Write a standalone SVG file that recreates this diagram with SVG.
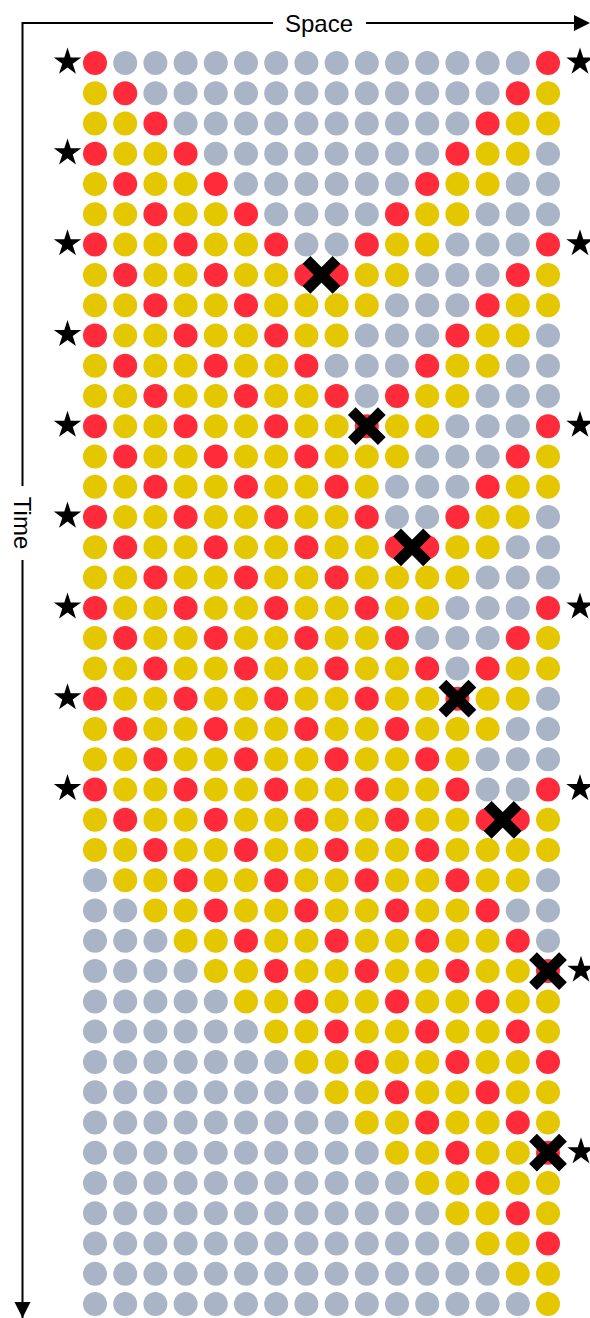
<svg xmlns="http://www.w3.org/2000/svg" width="590" height="1318" viewBox="0 0 590 1318">
<style>
.axis{stroke:#000;stroke-width:2;fill:none}
.lbl{font-family:"Liberation Sans",Arial,sans-serif;font-size:24px;fill:#000;text-anchor:middle}
</style>
<defs>
<circle id="r" r="12" fill="#FF2A3A"/>
<circle id="y" r="12" fill="#E5C700"/>
<circle id="g" r="12" fill="#A9B5C6"/>
<path id="star" d="M0,-14.4 L3.23,-4.45 L13.7,-4.45 L5.23,1.7 L8.46,11.65 L0,5.5 L-8.46,11.65 L-5.23,1.7 L-13.7,-4.45 L-3.23,-4.45 Z" fill="#000"/>
<path id="x" d="M-15,-15 L15,15 M15,-15 L-15,15" stroke="#000" stroke-width="11" fill="none"/>
</defs>
<g id="axes">
<path class="axis" d="M22.5,1318 V560 M22.5,486 V23 H273 M366,23 H576"/>
<path d="M590,23 L574,15 L574,31 Z" fill="#000"/>
<path d="M22.5,1318 L14.5,1302 L30.5,1302 Z" fill="#000"/>
<text class="lbl" x="319" y="31.5">Space</text>
<text class="lbl" transform="translate(22.5,523) rotate(90)" x="0" y="8.6">Time</text>
</g>
<g id="dots">
<g id="row-0" transform="translate(0,63)"><use href="#r" x="95"/><use href="#g" x="125.2"/><use href="#g" x="155.4"/><use href="#g" x="185.6"/><use href="#g" x="215.8"/><use href="#g" x="246"/><use href="#g" x="276.2"/><use href="#g" x="306.4"/><use href="#g" x="336.6"/><use href="#g" x="366.8"/><use href="#g" x="397"/><use href="#g" x="427.2"/><use href="#g" x="457.4"/><use href="#g" x="487.6"/><use href="#g" x="517.8"/><use href="#r" x="548"/></g>
<g id="row-1" transform="translate(0,93.3)"><use href="#y" x="95"/><use href="#r" x="125.2"/><use href="#g" x="155.4"/><use href="#g" x="185.6"/><use href="#g" x="215.8"/><use href="#g" x="246"/><use href="#g" x="276.2"/><use href="#g" x="306.4"/><use href="#g" x="336.6"/><use href="#g" x="366.8"/><use href="#g" x="397"/><use href="#g" x="427.2"/><use href="#g" x="457.4"/><use href="#g" x="487.6"/><use href="#r" x="517.8"/><use href="#y" x="548"/></g>
<g id="row-2" transform="translate(0,123.5)"><use href="#y" x="95"/><use href="#y" x="125.2"/><use href="#r" x="155.4"/><use href="#g" x="185.6"/><use href="#g" x="215.8"/><use href="#g" x="246"/><use href="#g" x="276.2"/><use href="#g" x="306.4"/><use href="#g" x="336.6"/><use href="#g" x="366.8"/><use href="#g" x="397"/><use href="#g" x="427.2"/><use href="#g" x="457.4"/><use href="#r" x="487.6"/><use href="#y" x="517.8"/><use href="#y" x="548"/></g>
<g id="row-3" transform="translate(0,153.8)"><use href="#r" x="95"/><use href="#y" x="125.2"/><use href="#y" x="155.4"/><use href="#r" x="185.6"/><use href="#g" x="215.8"/><use href="#g" x="246"/><use href="#g" x="276.2"/><use href="#g" x="306.4"/><use href="#g" x="336.6"/><use href="#g" x="366.8"/><use href="#g" x="397"/><use href="#g" x="427.2"/><use href="#r" x="457.4"/><use href="#y" x="487.6"/><use href="#y" x="517.8"/><use href="#g" x="548"/></g>
<g id="row-4" transform="translate(0,184.1)"><use href="#y" x="95"/><use href="#r" x="125.2"/><use href="#y" x="155.4"/><use href="#y" x="185.6"/><use href="#r" x="215.8"/><use href="#g" x="246"/><use href="#g" x="276.2"/><use href="#g" x="306.4"/><use href="#g" x="336.6"/><use href="#g" x="366.8"/><use href="#g" x="397"/><use href="#r" x="427.2"/><use href="#y" x="457.4"/><use href="#y" x="487.6"/><use href="#g" x="517.8"/><use href="#g" x="548"/></g>
<g id="row-5" transform="translate(0,214.35)"><use href="#y" x="95"/><use href="#y" x="125.2"/><use href="#r" x="155.4"/><use href="#y" x="185.6"/><use href="#y" x="215.8"/><use href="#r" x="246"/><use href="#g" x="276.2"/><use href="#g" x="306.4"/><use href="#g" x="336.6"/><use href="#g" x="366.8"/><use href="#r" x="397"/><use href="#y" x="427.2"/><use href="#y" x="457.4"/><use href="#g" x="487.6"/><use href="#g" x="517.8"/><use href="#g" x="548"/></g>
<g id="row-6" transform="translate(0,244.6)"><use href="#r" x="95"/><use href="#y" x="125.2"/><use href="#y" x="155.4"/><use href="#r" x="185.6"/><use href="#y" x="215.8"/><use href="#y" x="246"/><use href="#r" x="276.2"/><use href="#g" x="306.4"/><use href="#g" x="336.6"/><use href="#r" x="366.8"/><use href="#y" x="397"/><use href="#y" x="427.2"/><use href="#g" x="457.4"/><use href="#g" x="487.6"/><use href="#g" x="517.8"/><use href="#r" x="548"/></g>
<g id="row-7" transform="translate(0,274.9)"><use href="#y" x="95"/><use href="#r" x="125.2"/><use href="#y" x="155.4"/><use href="#y" x="185.6"/><use href="#r" x="215.8"/><use href="#y" x="246"/><use href="#y" x="276.2"/><use href="#r" x="306.4"/><use href="#r" x="336.6"/><use href="#y" x="366.8"/><use href="#y" x="397"/><use href="#g" x="427.2"/><use href="#g" x="457.4"/><use href="#g" x="487.6"/><use href="#r" x="517.8"/><use href="#y" x="548"/></g>
<g id="row-8" transform="translate(0,305.2)"><use href="#y" x="95"/><use href="#y" x="125.2"/><use href="#r" x="155.4"/><use href="#y" x="185.6"/><use href="#y" x="215.8"/><use href="#r" x="246"/><use href="#y" x="276.2"/><use href="#y" x="306.4"/><use href="#y" x="336.6"/><use href="#y" x="366.8"/><use href="#g" x="397"/><use href="#g" x="427.2"/><use href="#g" x="457.4"/><use href="#r" x="487.6"/><use href="#y" x="517.8"/><use href="#y" x="548"/></g>
<g id="row-9" transform="translate(0,335.4)"><use href="#r" x="95"/><use href="#y" x="125.2"/><use href="#y" x="155.4"/><use href="#r" x="185.6"/><use href="#y" x="215.8"/><use href="#y" x="246"/><use href="#r" x="276.2"/><use href="#y" x="306.4"/><use href="#y" x="336.6"/><use href="#g" x="366.8"/><use href="#g" x="397"/><use href="#g" x="427.2"/><use href="#r" x="457.4"/><use href="#y" x="487.6"/><use href="#y" x="517.8"/><use href="#g" x="548"/></g>
<g id="row-10" transform="translate(0,365.7)"><use href="#y" x="95"/><use href="#r" x="125.2"/><use href="#y" x="155.4"/><use href="#y" x="185.6"/><use href="#r" x="215.8"/><use href="#y" x="246"/><use href="#y" x="276.2"/><use href="#r" x="306.4"/><use href="#g" x="336.6"/><use href="#g" x="366.8"/><use href="#g" x="397"/><use href="#r" x="427.2"/><use href="#y" x="457.4"/><use href="#y" x="487.6"/><use href="#g" x="517.8"/><use href="#g" x="548"/></g>
<g id="row-11" transform="translate(0,396)"><use href="#y" x="95"/><use href="#y" x="125.2"/><use href="#r" x="155.4"/><use href="#y" x="185.6"/><use href="#y" x="215.8"/><use href="#r" x="246"/><use href="#y" x="276.2"/><use href="#y" x="306.4"/><use href="#r" x="336.6"/><use href="#g" x="366.8"/><use href="#r" x="397"/><use href="#y" x="427.2"/><use href="#y" x="457.4"/><use href="#g" x="487.6"/><use href="#g" x="517.8"/><use href="#g" x="548"/></g>
<g id="row-12" transform="translate(0,426.2)"><use href="#r" x="95"/><use href="#y" x="125.2"/><use href="#y" x="155.4"/><use href="#r" x="185.6"/><use href="#y" x="215.8"/><use href="#y" x="246"/><use href="#r" x="276.2"/><use href="#y" x="306.4"/><use href="#y" x="336.6"/><use href="#r" x="366.8"/><use href="#y" x="397"/><use href="#y" x="427.2"/><use href="#g" x="457.4"/><use href="#g" x="487.6"/><use href="#g" x="517.8"/><use href="#r" x="548"/></g>
<g id="row-13" transform="translate(0,456.5)"><use href="#y" x="95"/><use href="#r" x="125.2"/><use href="#y" x="155.4"/><use href="#y" x="185.6"/><use href="#r" x="215.8"/><use href="#y" x="246"/><use href="#y" x="276.2"/><use href="#r" x="306.4"/><use href="#y" x="336.6"/><use href="#y" x="366.8"/><use href="#y" x="397"/><use href="#g" x="427.2"/><use href="#g" x="457.4"/><use href="#g" x="487.6"/><use href="#r" x="517.8"/><use href="#y" x="548"/></g>
<g id="row-14" transform="translate(0,486.8)"><use href="#y" x="95"/><use href="#y" x="125.2"/><use href="#r" x="155.4"/><use href="#y" x="185.6"/><use href="#y" x="215.8"/><use href="#r" x="246"/><use href="#y" x="276.2"/><use href="#y" x="306.4"/><use href="#r" x="336.6"/><use href="#y" x="366.8"/><use href="#g" x="397"/><use href="#g" x="427.2"/><use href="#g" x="457.4"/><use href="#r" x="487.6"/><use href="#y" x="517.8"/><use href="#y" x="548"/></g>
<g id="row-15" transform="translate(0,517)"><use href="#r" x="95"/><use href="#y" x="125.2"/><use href="#y" x="155.4"/><use href="#r" x="185.6"/><use href="#y" x="215.8"/><use href="#y" x="246"/><use href="#r" x="276.2"/><use href="#y" x="306.4"/><use href="#y" x="336.6"/><use href="#r" x="366.8"/><use href="#g" x="397"/><use href="#g" x="427.2"/><use href="#r" x="457.4"/><use href="#y" x="487.6"/><use href="#y" x="517.8"/><use href="#g" x="548"/></g>
<g id="row-16" transform="translate(0,547.3)"><use href="#y" x="95"/><use href="#r" x="125.2"/><use href="#y" x="155.4"/><use href="#y" x="185.6"/><use href="#r" x="215.8"/><use href="#y" x="246"/><use href="#y" x="276.2"/><use href="#r" x="306.4"/><use href="#y" x="336.6"/><use href="#y" x="366.8"/><use href="#r" x="397"/><use href="#r" x="427.2"/><use href="#y" x="457.4"/><use href="#y" x="487.6"/><use href="#g" x="517.8"/><use href="#g" x="548"/></g>
<g id="row-17" transform="translate(0,577.6)"><use href="#y" x="95"/><use href="#y" x="125.2"/><use href="#r" x="155.4"/><use href="#y" x="185.6"/><use href="#y" x="215.8"/><use href="#r" x="246"/><use href="#y" x="276.2"/><use href="#y" x="306.4"/><use href="#r" x="336.6"/><use href="#y" x="366.8"/><use href="#y" x="397"/><use href="#y" x="427.2"/><use href="#y" x="457.4"/><use href="#g" x="487.6"/><use href="#g" x="517.8"/><use href="#g" x="548"/></g>
<g id="row-18" transform="translate(0,607.9)"><use href="#r" x="95"/><use href="#y" x="125.2"/><use href="#y" x="155.4"/><use href="#r" x="185.6"/><use href="#y" x="215.8"/><use href="#y" x="246"/><use href="#r" x="276.2"/><use href="#y" x="306.4"/><use href="#y" x="336.6"/><use href="#r" x="366.8"/><use href="#y" x="397"/><use href="#y" x="427.2"/><use href="#g" x="457.4"/><use href="#g" x="487.6"/><use href="#g" x="517.8"/><use href="#r" x="548"/></g>
<g id="row-19" transform="translate(0,638.1)"><use href="#y" x="95"/><use href="#r" x="125.2"/><use href="#y" x="155.4"/><use href="#y" x="185.6"/><use href="#r" x="215.8"/><use href="#y" x="246"/><use href="#y" x="276.2"/><use href="#r" x="306.4"/><use href="#y" x="336.6"/><use href="#y" x="366.8"/><use href="#r" x="397"/><use href="#g" x="427.2"/><use href="#g" x="457.4"/><use href="#g" x="487.6"/><use href="#r" x="517.8"/><use href="#y" x="548"/></g>
<g id="row-20" transform="translate(0,668.4)"><use href="#y" x="95"/><use href="#y" x="125.2"/><use href="#r" x="155.4"/><use href="#y" x="185.6"/><use href="#y" x="215.8"/><use href="#r" x="246"/><use href="#y" x="276.2"/><use href="#y" x="306.4"/><use href="#r" x="336.6"/><use href="#y" x="366.8"/><use href="#y" x="397"/><use href="#r" x="427.2"/><use href="#g" x="457.4"/><use href="#r" x="487.6"/><use href="#y" x="517.8"/><use href="#y" x="548"/></g>
<g id="row-21" transform="translate(0,698.7)"><use href="#r" x="95"/><use href="#y" x="125.2"/><use href="#y" x="155.4"/><use href="#r" x="185.6"/><use href="#y" x="215.8"/><use href="#y" x="246"/><use href="#r" x="276.2"/><use href="#y" x="306.4"/><use href="#y" x="336.6"/><use href="#r" x="366.8"/><use href="#y" x="397"/><use href="#y" x="427.2"/><use href="#r" x="457.4"/><use href="#y" x="487.6"/><use href="#y" x="517.8"/><use href="#g" x="548"/></g>
<g id="row-22" transform="translate(0,728.9)"><use href="#y" x="95"/><use href="#r" x="125.2"/><use href="#y" x="155.4"/><use href="#y" x="185.6"/><use href="#r" x="215.8"/><use href="#y" x="246"/><use href="#y" x="276.2"/><use href="#r" x="306.4"/><use href="#y" x="336.6"/><use href="#y" x="366.8"/><use href="#r" x="397"/><use href="#y" x="427.2"/><use href="#y" x="457.4"/><use href="#y" x="487.6"/><use href="#g" x="517.8"/><use href="#g" x="548"/></g>
<g id="row-23" transform="translate(0,759.2)"><use href="#y" x="95"/><use href="#y" x="125.2"/><use href="#r" x="155.4"/><use href="#y" x="185.6"/><use href="#y" x="215.8"/><use href="#r" x="246"/><use href="#y" x="276.2"/><use href="#y" x="306.4"/><use href="#r" x="336.6"/><use href="#y" x="366.8"/><use href="#y" x="397"/><use href="#r" x="427.2"/><use href="#y" x="457.4"/><use href="#g" x="487.6"/><use href="#g" x="517.8"/><use href="#g" x="548"/></g>
<g id="row-24" transform="translate(0,789.5)"><use href="#r" x="95"/><use href="#y" x="125.2"/><use href="#y" x="155.4"/><use href="#r" x="185.6"/><use href="#y" x="215.8"/><use href="#y" x="246"/><use href="#r" x="276.2"/><use href="#y" x="306.4"/><use href="#y" x="336.6"/><use href="#r" x="366.8"/><use href="#y" x="397"/><use href="#y" x="427.2"/><use href="#r" x="457.4"/><use href="#g" x="487.6"/><use href="#g" x="517.8"/><use href="#r" x="548"/></g>
<g id="row-25" transform="translate(0,819.8)"><use href="#y" x="95"/><use href="#r" x="125.2"/><use href="#y" x="155.4"/><use href="#y" x="185.6"/><use href="#r" x="215.8"/><use href="#y" x="246"/><use href="#y" x="276.2"/><use href="#r" x="306.4"/><use href="#y" x="336.6"/><use href="#y" x="366.8"/><use href="#r" x="397"/><use href="#y" x="427.2"/><use href="#y" x="457.4"/><use href="#r" x="487.6"/><use href="#r" x="517.8"/><use href="#y" x="548"/></g>
<g id="row-26" transform="translate(0,850)"><use href="#y" x="95"/><use href="#y" x="125.2"/><use href="#r" x="155.4"/><use href="#y" x="185.6"/><use href="#y" x="215.8"/><use href="#r" x="246"/><use href="#y" x="276.2"/><use href="#y" x="306.4"/><use href="#r" x="336.6"/><use href="#y" x="366.8"/><use href="#y" x="397"/><use href="#r" x="427.2"/><use href="#y" x="457.4"/><use href="#y" x="487.6"/><use href="#y" x="517.8"/><use href="#y" x="548"/></g>
<g id="row-27" transform="translate(0,880.3)"><use href="#g" x="95"/><use href="#y" x="125.2"/><use href="#y" x="155.4"/><use href="#r" x="185.6"/><use href="#y" x="215.8"/><use href="#y" x="246"/><use href="#r" x="276.2"/><use href="#y" x="306.4"/><use href="#y" x="336.6"/><use href="#r" x="366.8"/><use href="#y" x="397"/><use href="#y" x="427.2"/><use href="#r" x="457.4"/><use href="#y" x="487.6"/><use href="#y" x="517.8"/><use href="#g" x="548"/></g>
<g id="row-28" transform="translate(0,910.6)"><use href="#g" x="95"/><use href="#g" x="125.2"/><use href="#y" x="155.4"/><use href="#y" x="185.6"/><use href="#r" x="215.8"/><use href="#y" x="246"/><use href="#y" x="276.2"/><use href="#r" x="306.4"/><use href="#y" x="336.6"/><use href="#y" x="366.8"/><use href="#r" x="397"/><use href="#y" x="427.2"/><use href="#y" x="457.4"/><use href="#r" x="487.6"/><use href="#g" x="517.8"/><use href="#g" x="548"/></g>
<g id="row-29" transform="translate(0,940.8)"><use href="#g" x="95"/><use href="#g" x="125.2"/><use href="#g" x="155.4"/><use href="#y" x="185.6"/><use href="#y" x="215.8"/><use href="#r" x="246"/><use href="#y" x="276.2"/><use href="#y" x="306.4"/><use href="#r" x="336.6"/><use href="#y" x="366.8"/><use href="#y" x="397"/><use href="#r" x="427.2"/><use href="#y" x="457.4"/><use href="#y" x="487.6"/><use href="#r" x="517.8"/><use href="#g" x="548"/></g>
<g id="row-30" transform="translate(0,971.1)"><use href="#g" x="95"/><use href="#g" x="125.2"/><use href="#g" x="155.4"/><use href="#g" x="185.6"/><use href="#y" x="215.8"/><use href="#y" x="246"/><use href="#r" x="276.2"/><use href="#y" x="306.4"/><use href="#y" x="336.6"/><use href="#r" x="366.8"/><use href="#y" x="397"/><use href="#y" x="427.2"/><use href="#r" x="457.4"/><use href="#y" x="487.6"/><use href="#y" x="517.8"/><use href="#r" x="548"/></g>
<g id="row-31" transform="translate(0,1001.4)"><use href="#g" x="95"/><use href="#g" x="125.2"/><use href="#g" x="155.4"/><use href="#g" x="185.6"/><use href="#g" x="215.8"/><use href="#y" x="246"/><use href="#y" x="276.2"/><use href="#r" x="306.4"/><use href="#y" x="336.6"/><use href="#y" x="366.8"/><use href="#r" x="397"/><use href="#y" x="427.2"/><use href="#y" x="457.4"/><use href="#r" x="487.6"/><use href="#y" x="517.8"/><use href="#y" x="548"/></g>
<g id="row-32" transform="translate(0,1031.6)"><use href="#g" x="95"/><use href="#g" x="125.2"/><use href="#g" x="155.4"/><use href="#g" x="185.6"/><use href="#g" x="215.8"/><use href="#g" x="246"/><use href="#y" x="276.2"/><use href="#y" x="306.4"/><use href="#r" x="336.6"/><use href="#y" x="366.8"/><use href="#y" x="397"/><use href="#r" x="427.2"/><use href="#y" x="457.4"/><use href="#y" x="487.6"/><use href="#r" x="517.8"/><use href="#y" x="548"/></g>
<g id="row-33" transform="translate(0,1061.9)"><use href="#g" x="95"/><use href="#g" x="125.2"/><use href="#g" x="155.4"/><use href="#g" x="185.6"/><use href="#g" x="215.8"/><use href="#g" x="246"/><use href="#g" x="276.2"/><use href="#y" x="306.4"/><use href="#y" x="336.6"/><use href="#r" x="366.8"/><use href="#y" x="397"/><use href="#y" x="427.2"/><use href="#r" x="457.4"/><use href="#y" x="487.6"/><use href="#y" x="517.8"/><use href="#r" x="548"/></g>
<g id="row-34" transform="translate(0,1092.2)"><use href="#g" x="95"/><use href="#g" x="125.2"/><use href="#g" x="155.4"/><use href="#g" x="185.6"/><use href="#g" x="215.8"/><use href="#g" x="246"/><use href="#g" x="276.2"/><use href="#g" x="306.4"/><use href="#y" x="336.6"/><use href="#y" x="366.8"/><use href="#r" x="397"/><use href="#y" x="427.2"/><use href="#y" x="457.4"/><use href="#r" x="487.6"/><use href="#y" x="517.8"/><use href="#y" x="548"/></g>
<g id="row-35" transform="translate(0,1122.5)"><use href="#g" x="95"/><use href="#g" x="125.2"/><use href="#g" x="155.4"/><use href="#g" x="185.6"/><use href="#g" x="215.8"/><use href="#g" x="246"/><use href="#g" x="276.2"/><use href="#g" x="306.4"/><use href="#g" x="336.6"/><use href="#y" x="366.8"/><use href="#y" x="397"/><use href="#r" x="427.2"/><use href="#y" x="457.4"/><use href="#y" x="487.6"/><use href="#r" x="517.8"/><use href="#y" x="548"/></g>
<g id="row-36" transform="translate(0,1152.7)"><use href="#g" x="95"/><use href="#g" x="125.2"/><use href="#g" x="155.4"/><use href="#g" x="185.6"/><use href="#g" x="215.8"/><use href="#g" x="246"/><use href="#g" x="276.2"/><use href="#g" x="306.4"/><use href="#g" x="336.6"/><use href="#g" x="366.8"/><use href="#y" x="397"/><use href="#y" x="427.2"/><use href="#r" x="457.4"/><use href="#y" x="487.6"/><use href="#y" x="517.8"/><use href="#r" x="548"/></g>
<g id="row-37" transform="translate(0,1183)"><use href="#g" x="95"/><use href="#g" x="125.2"/><use href="#g" x="155.4"/><use href="#g" x="185.6"/><use href="#g" x="215.8"/><use href="#g" x="246"/><use href="#g" x="276.2"/><use href="#g" x="306.4"/><use href="#g" x="336.6"/><use href="#g" x="366.8"/><use href="#g" x="397"/><use href="#y" x="427.2"/><use href="#y" x="457.4"/><use href="#r" x="487.6"/><use href="#y" x="517.8"/><use href="#y" x="548"/></g>
<g id="row-38" transform="translate(0,1213.3)"><use href="#g" x="95"/><use href="#g" x="125.2"/><use href="#g" x="155.4"/><use href="#g" x="185.6"/><use href="#g" x="215.8"/><use href="#g" x="246"/><use href="#g" x="276.2"/><use href="#g" x="306.4"/><use href="#g" x="336.6"/><use href="#g" x="366.8"/><use href="#g" x="397"/><use href="#g" x="427.2"/><use href="#y" x="457.4"/><use href="#y" x="487.6"/><use href="#r" x="517.8"/><use href="#y" x="548"/></g>
<g id="row-39" transform="translate(0,1243.5)"><use href="#g" x="95"/><use href="#g" x="125.2"/><use href="#g" x="155.4"/><use href="#g" x="185.6"/><use href="#g" x="215.8"/><use href="#g" x="246"/><use href="#g" x="276.2"/><use href="#g" x="306.4"/><use href="#g" x="336.6"/><use href="#g" x="366.8"/><use href="#g" x="397"/><use href="#g" x="427.2"/><use href="#g" x="457.4"/><use href="#y" x="487.6"/><use href="#y" x="517.8"/><use href="#r" x="548"/></g>
<g id="row-40" transform="translate(0,1273.8)"><use href="#g" x="95"/><use href="#g" x="125.2"/><use href="#g" x="155.4"/><use href="#g" x="185.6"/><use href="#g" x="215.8"/><use href="#g" x="246"/><use href="#g" x="276.2"/><use href="#g" x="306.4"/><use href="#g" x="336.6"/><use href="#g" x="366.8"/><use href="#g" x="397"/><use href="#g" x="427.2"/><use href="#g" x="457.4"/><use href="#g" x="487.6"/><use href="#y" x="517.8"/><use href="#y" x="548"/></g>
<g id="row-41" transform="translate(0,1304.1)"><use href="#g" x="95"/><use href="#g" x="125.2"/><use href="#g" x="155.4"/><use href="#g" x="185.6"/><use href="#g" x="215.8"/><use href="#g" x="246"/><use href="#g" x="276.2"/><use href="#g" x="306.4"/><use href="#g" x="336.6"/><use href="#g" x="366.8"/><use href="#g" x="397"/><use href="#g" x="427.2"/><use href="#g" x="457.4"/><use href="#g" x="487.6"/><use href="#g" x="517.8"/><use href="#y" x="548"/></g>
</g>
<g id="stars">
<use href="#star" x="67.5" y="62"/>
<use href="#star" x="67.5" y="152.8"/>
<use href="#star" x="67.5" y="243.6"/>
<use href="#star" x="67.5" y="334.4"/>
<use href="#star" x="67.5" y="425.2"/>
<use href="#star" x="67.5" y="516"/>
<use href="#star" x="67.5" y="606.9"/>
<use href="#star" x="67.5" y="697.7"/>
<use href="#star" x="67.5" y="788.5"/>
<use href="#star" x="580" y="62"/>
<use href="#star" x="580" y="243.6"/>
<use href="#star" x="580" y="425.2"/>
<use href="#star" x="580" y="606.9"/>
<use href="#star" x="580" y="788.5"/>
<use href="#star" x="581" y="970.1"/>
<use href="#star" x="581" y="1151.7"/>
</g>
<g id="crosses">
<use href="#x" x="321.5" y="274.9"/>
<use href="#x" x="366.8" y="426.2"/>
<use href="#x" x="412.1" y="547.3"/>
<use href="#x" x="457.4" y="698.7"/>
<use href="#x" x="502.7" y="819.8"/>
<use href="#x" x="548" y="971.1"/>
<use href="#x" x="548" y="1152.7"/>
</g>
</svg>
